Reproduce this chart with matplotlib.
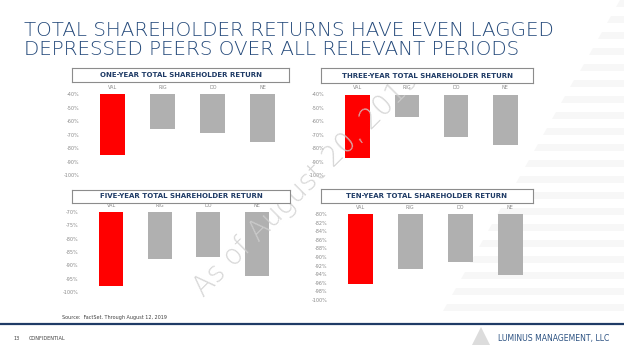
import matplotlib
matplotlib.use("Agg")
import matplotlib.pyplot as plt
from matplotlib.patches import Polygon

W, H = 624, 351

categories = ["VAL", "RIG", "DO", "NE"]
one_year = [-85.2, -65.8, -68.9, -75.5]
three_year = [-87.7, -56.5, -72.0, -77.7]
five_year = [-97.6, -87.8, -86.7, -93.9]
ten_year = [-96.3, -92.8, -91.1, -94.2]

one_ticks = [-40, -50, -60, -70, -80, -90, -100]
three_ticks = [-40, -50, -60, -70, -80, -90, -100]
five_ticks = [-70, -75, -80, -85, -90, -95, -100]
ten_ticks = [-80, -82, -84, -86, -88, -90, -92, -94, -96, -98, -100]

panel_titles = ["ONE-YEAR TOTAL SHAREHOLDER RETURN",
                "THREE-YEAR TOTAL SHAREHOLDER RETURN",
                "FIVE-YEAR TOTAL SHAREHOLDER RETURN",
                "TEN-YEAR TOTAL SHAREHOLDER RETURN"]

main_title = "TOTAL SHAREHOLDER RETURNS HAVE EVEN LAGGED\nDEPRESSED PEERS OVER ALL RELEVANT PERIODS"

NAVY = "#1f3b66"
RED = "#ff0000"
GRAY = "#b0b0b0"
TXT = "#8a8a8a"

fig = plt.figure(figsize=(W / 100, H / 100), dpi=100)
fig.patch.set_facecolor("white")

def fx(x):
    return x / W

def fy(y):
    return 1 - y / H

# decorative faint stripes on the right
bg = fig.add_axes([0, 0, 1, 1], zorder=-5)
bg.set_xlim(0, W)
bg.set_ylim(H, 0)
bg.axis("off")
for y0 in range(0, 320, 16):
    xl0 = 620 - (y0) * 0.57
    xl1 = 620 - (y0 + 7) * 0.57
    bg.add_patch(Polygon([[xl0, y0], [W, y0], [W, y0 + 7], [xl1, y0 + 7]],
                         closed=True, facecolor="#f7f7f7", edgecolor="none"))

# main title
fig.text(fx(24), fy(21), main_title, ha="left", va="top", fontsize=14.3,
         color="#24497a", family="DejaVu Sans", fontweight="light",
         linespacing=1.0)

panels = [
    (one_year, one_ticks, (87.5, 94, 288, 175), (72, 68, 289, 82)),
    (three_year, three_ticks, (333, 94.5, 530, 175), (321, 68, 533, 83)),
    (five_year, five_ticks, (87, 212, 281, 292), (72, 190, 290, 203)),
    (ten_year, ten_ticks, (335.5, 214, 535, 300), (321, 189, 533, 203)),
]

for (vals, ticks, box, tbox), ttl in zip(panels, panel_titles):
    l, t, r, b = box
    ax = fig.add_axes([fx(l), fy(b), fx(r) - fx(l), (b - t) / H])
    colors = [RED] + [GRAY] * (len(categories) - 1)
    ax.bar(range(len(categories)), vals, width=0.5, color=colors, zorder=2)
    ax.set_ylim(min(ticks), max(ticks))
    ax.set_xlim(-0.5, len(categories) - 0.5)
    ax.set_yticks(ticks)
    ax.set_yticklabels([f"{v}%" for v in ticks], fontsize=3.5, color=TXT)
    ax.set_xticks(range(len(categories)))
    ax.set_xticklabels(categories, fontsize=3.5, color=TXT)
    ax.xaxis.tick_top()
    ax.tick_params(axis="both", length=0, pad=3)
    ax.tick_params(axis="y", pad=6)
    for s in ax.spines.values():
        s.set_visible(False)
    ax.patch.set_alpha(0)
    # title box
    tl, tt, tr, tb = tbox
    tax = fig.add_axes([fx(tl), fy(tb), fx(tr) - fx(tl), (tb - tt) / H], zorder=5)
    tax.set_xticks([])
    tax.set_yticks([])
    for s in tax.spines.values():
        s.set_edgecolor("#8c8c8c")
        s.set_linewidth(0.8)
    tax.set_facecolor("white")
    tax.text(0.5, 0.5, ttl, ha="center", va="center", fontsize=5.0,
             fontweight="bold", color=NAVY, transform=tax.transAxes)

# watermark
fig.text(fx(307), fy(184), "As of August 20, 2019", rotation=45,
         rotation_mode="anchor", ha="center", va="center", fontsize=20,
         color="#cfcfcf", alpha=0.85, zorder=4, fontweight="light")

# footer
fig.text(fx(62), fy(318), "Source:  FactSet. Through August 12, 2019", fontsize=3.5,
         color="#404040", ha="left", va="center")
bg.plot([0, W], [323.5, 323.5], color="#1f3b66", lw=1.6)
fig.text(fx(13), fy(339), "13", fontsize=3.6, color="#404040", ha="left", va="center")
fig.text(fx(29), fy(339), "CONFIDENTIAL", fontsize=3.6, color="#404040", ha="left", va="center")
bg.add_patch(Polygon([[472, 345], [481, 327], [490, 345]], closed=True,
                     facecolor="#dcdcdc", edgecolor="none"))
fig.text(fx(498), fy(338), "LUMINUS MANAGEMENT, LLC", fontsize=5.6,
         color="#2c5282", ha="left", va="center")

fig.savefig("out.png", dpi=100, facecolor="white")
